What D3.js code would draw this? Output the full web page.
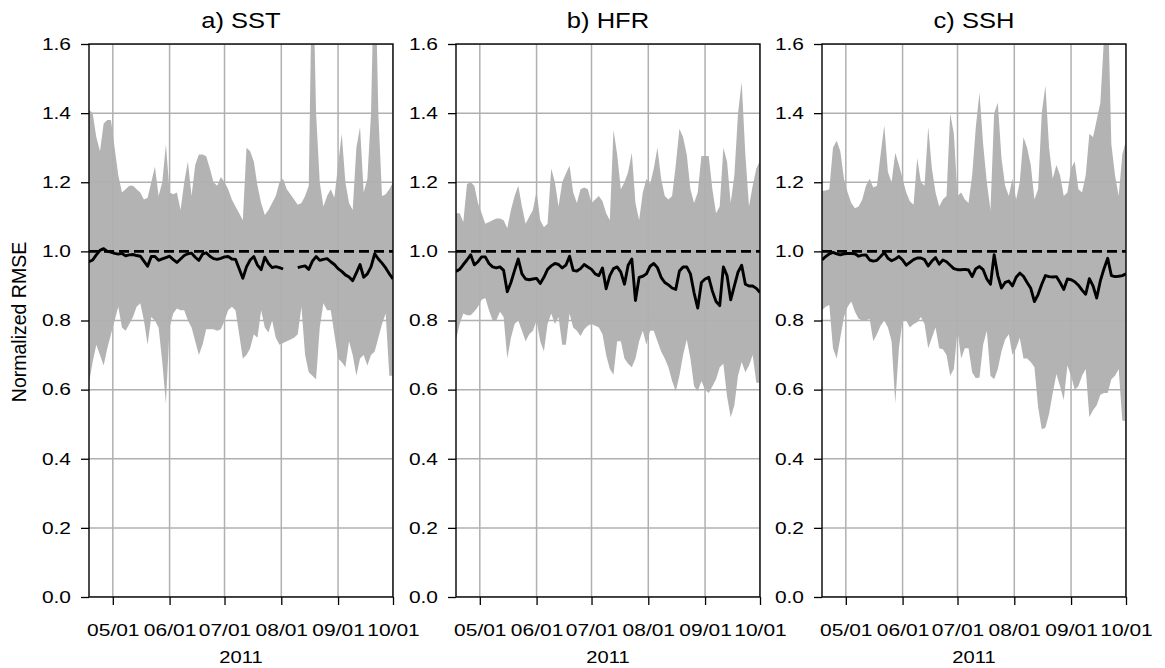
<!DOCTYPE html>
<html>
<head>
<meta charset="utf-8">
<script src="https://cdn.jsdelivr.net/npm/d3@7"></script>
<style>
    body { margin: 0; background: #fff; }
    text { font-family: "Liberation Sans", Arial, sans-serif; fill: #000; }
</style>
</head>
<body>
<div id="chart"></div>
<script>

// x categories: every second day from 2011-04-18 to 2011-10-01
const startDate = new Date(2011, 3, 18);
const dates = d3.range(84).map(i => d3.timeDay.offset(startDate, 2 * i));
const monthTicks = [4, 5, 6, 7, 8, 9].map(m => new Date(2011, m, 1));
const yTicks = [0, 0.2, 0.4, 0.6, 0.8, 1.0, 1.2, 1.4, 1.6];
const titles = ["a) SST", "b) HFR", "c) SSH"];

// a) SST
const sstHi = [1.41,1.40,1.33,1.29,1.37,1.38,1.38,1.30,1.22,1.17,
    1.18,1.19,1.19,1.18,1.17,1.15,1.155,1.20,1.245,1.16,
    1.20,1.31,1.17,1.165,1.17,1.12,1.20,1.26,1.16,1.25,
    1.28,1.28,1.275,1.24,1.20,1.19,1.215,1.20,1.18,1.15,
    1.13,1.11,1.09,1.30,1.29,1.26,1.19,1.14,1.105,1.12,
    1.14,1.16,1.20,1.21,1.18,1.165,1.15,1.135,1.14,1.16,
    1.19,1.90,1.40,1.20,1.13,1.16,1.18,1.155,1.25,1.34,
    1.20,1.14,1.12,1.30,1.36,1.17,1.21,1.40,1.90,1.40,
    1.16,1.165,1.18,1.20];
const sstLo = [0.62,0.68,0.73,0.70,0.67,0.72,0.76,0.80,0.84,0.78,
    0.77,0.79,0.81,0.84,0.85,0.80,0.73,0.81,0.80,0.78,
    0.68,0.56,0.78,0.82,0.835,0.83,0.83,0.80,0.78,0.74,
    0.70,0.73,0.775,0.775,0.775,0.77,0.775,0.80,0.83,0.84,
    0.83,0.76,0.69,0.70,0.72,0.76,0.75,0.83,0.78,0.765,
    0.80,0.75,0.73,0.735,0.74,0.745,0.75,0.76,0.84,0.70,
    0.65,0.64,0.63,0.78,0.85,0.83,0.83,0.76,0.69,0.68,
    0.665,0.74,0.70,0.64,0.69,0.70,0.67,0.70,0.71,0.75,
    0.79,0.82,0.64,0.64];
const sstMean = [0.97,0.975,0.99,1.003,1.008,1.0,0.998,0.994,0.992,0.994,
    0.987,0.99,0.991,0.988,0.986,0.972,0.957,0.985,0.985,0.974,
    0.978,0.982,0.986,0.976,0.968,0.978,0.988,0.993,0.995,0.983,
    0.974,0.992,0.996,0.986,0.979,0.977,0.980,0.984,0.985,0.978,
    0.977,0.95,0.922,0.955,0.975,0.985,0.96,0.947,0.983,0.965,
    0.953,0.956,0.953,0.949,null,null,null,0.953,0.956,0.958,
    0.948,0.972,0.985,0.974,0.977,0.979,0.970,0.962,0.950,0.942,
    0.932,0.926,0.915,0.938,0.962,0.925,0.935,0.955,0.993,0.978,
    0.966,0.952,0.935,0.92];

// b) HFR
const hfrHi = [1.11,1.11,1.085,1.195,1.20,1.19,1.14,1.11,1.08,1.085,
    1.09,1.095,1.095,1.09,1.067,1.12,1.16,1.19,1.13,1.08,
    1.10,1.12,1.175,1.09,1.07,1.08,1.24,1.20,1.13,1.20,
    1.225,1.248,1.17,1.14,1.18,1.185,1.18,1.14,1.15,1.16,
    1.145,1.11,1.09,1.352,1.28,1.18,1.20,1.23,1.285,1.14,
    1.09,1.17,1.21,1.195,1.24,1.30,1.21,1.16,1.15,1.16,
    1.25,1.355,1.33,1.28,1.18,1.14,1.17,1.276,1.276,1.276,
    1.18,1.11,1.13,1.30,1.26,1.14,1.22,1.40,1.49,1.28,
    1.13,1.19,1.24,1.262];
const hfrLo = [0.745,0.79,0.82,0.815,0.815,0.826,0.84,0.86,0.865,0.83,
    0.80,0.80,0.825,0.81,0.69,0.75,0.79,0.80,0.77,0.74,
    0.76,0.77,0.80,0.74,0.71,0.79,0.82,0.79,0.81,0.73,
    0.73,0.82,0.78,0.77,0.755,0.775,0.785,0.79,0.785,0.78,
    0.76,0.70,0.66,0.643,0.74,0.74,0.69,0.675,0.665,0.69,
    0.74,0.77,0.73,0.77,0.77,0.74,0.71,0.69,0.665,0.625,
    0.595,0.64,0.70,0.745,0.69,0.61,0.595,0.625,0.60,0.59,
    0.61,0.63,0.665,0.675,0.58,0.52,0.555,0.64,0.68,0.65,
    0.67,0.70,0.62,0.62];
const hfrMean = [0.942,0.948,0.962,0.975,0.99,0.961,0.97,0.984,0.984,0.965,
    0.955,0.952,0.955,0.945,0.883,0.91,0.945,0.978,0.935,0.92,
    0.918,0.92,0.922,0.907,0.925,0.948,0.958,0.965,0.962,0.952,
    0.96,0.986,0.945,0.943,0.95,0.962,0.955,0.948,0.935,0.93,
    0.952,0.892,0.93,0.95,0.955,0.94,0.905,0.96,0.978,0.858,
    0.925,0.928,0.935,0.957,0.965,0.953,0.925,0.91,0.903,0.894,
    0.89,0.943,0.955,0.955,0.935,0.88,0.836,0.91,0.92,0.925,
    0.885,0.855,0.843,0.955,0.93,0.86,0.90,0.94,0.96,0.905,
    0.90,0.90,0.893,0.881];

// c) SSH
const sshHi = [1.175,1.176,1.18,1.30,1.32,1.29,1.21,1.17,1.14,1.125,
    1.13,1.15,1.19,1.21,1.185,1.19,1.28,1.365,1.23,1.20,
    1.285,1.25,1.21,1.17,1.145,1.135,1.27,1.20,1.19,1.36,
    1.24,1.17,1.13,1.15,1.16,1.40,1.34,1.16,1.17,1.15,
    1.14,1.22,1.36,1.46,1.31,1.20,1.12,1.40,1.43,1.27,
    1.19,1.16,1.21,1.15,1.20,1.33,1.30,1.25,1.15,1.18,
    1.40,1.48,1.30,1.21,1.25,1.22,1.16,1.17,1.24,1.26,
    1.18,1.17,1.22,1.34,1.33,1.38,1.43,1.62,1.75,1.31,
    1.22,1.16,1.28,1.32];
const sshLo = [0.83,0.84,0.845,0.72,0.69,0.75,0.81,0.84,0.855,0.825,
    0.805,0.80,0.80,0.805,0.74,0.76,0.785,0.80,0.78,0.74,
    0.56,0.72,0.80,0.80,0.78,0.79,0.795,0.81,0.79,0.72,
    0.75,0.78,0.72,0.717,0.70,0.64,0.66,0.77,0.69,0.72,
    0.72,0.65,0.633,0.635,0.73,0.77,0.64,0.63,0.66,0.71,
    0.745,0.76,0.70,0.72,0.75,0.69,0.69,0.68,0.665,0.55,
    0.485,0.49,0.53,0.59,0.645,0.61,0.57,0.67,0.64,0.60,
    0.61,0.64,0.66,0.52,0.54,0.555,0.585,0.59,0.59,0.63,
    0.64,0.66,0.51,0.51];
const sshMean = [0.975,0.985,0.993,0.997,0.993,0.99,0.993,0.994,0.994,0.993,
    0.986,0.989,0.99,0.975,0.972,0.974,0.985,0.997,0.98,0.973,
    0.978,0.985,0.975,0.96,0.968,0.976,0.981,0.981,0.976,0.958,
    0.972,0.982,0.963,0.975,0.97,0.96,0.95,0.947,0.947,0.948,
    0.946,0.927,0.95,0.956,0.947,0.92,0.905,0.99,0.93,0.894,
    0.91,0.914,0.9,0.925,0.937,0.928,0.91,0.893,0.855,0.875,
    0.905,0.93,0.927,0.926,0.927,0.91,0.89,0.92,0.918,0.912,
    0.902,0.888,0.876,0.921,0.9,0.865,0.915,0.95,0.98,0.93,
    0.927,0.928,0.93,0.935];

const panelLows = [sstLo, hfrLo, sshLo];
const panelHighs = [sstHi, hfrHi, sshHi];
const panelMeans = [sstMean, hfrMean, sshMean];

// the reference text is wider than the font at that height, so stretch it sideways
function stretchText(sel, sx) {
    sel.each(function () {
        let w = this.getComputedTextLength();
        d3.select(this)
            .attr("textLength", w * sx)
            .attr("lengthAdjust", "spacingAndGlyphs");
    });
}

class PanelVis {

    constructor(svg, index, left, lo, hi, mean) {
        this.svg = svg;
        this.index = index;
        this.left = left;
        this.lo = lo;
        this.hi = hi;
        this.mean = mean;

        this.initVis();
    }

    initVis() {
        let vis = this;

        vis.top = 44;
        vis.width = 304;
        vis.height = 553;

        vis.g = vis.svg.append("g")
            .attr("transform", `translate(${vis.left}, ${vis.top})`);

        vis.x = d3.scaleTime()
            .domain([dates[0], dates[dates.length - 1]])
            .range([0, vis.width]);

        vis.y = d3.scaleLinear()
            .domain([0, 1.6])
            .range([vis.height, 0]);

        vis.g.append("clipPath")
            .attr("id", "clip" + vis.index)
            .append("rect")
            .attr("width", vis.width)
            .attr("height", vis.height);

        vis.updateVis();
    }

    updateVis() {
        let vis = this;

        vis.rows = dates.map((d, i) => ({date: d, lo: vis.lo[i], hi: vis.hi[i], mean: vis.mean[i]}));

        let plot = vis.g.append("g").attr("clip-path", `url(#clip${vis.index})`);

        // min / max envelope
        let area = d3.area()
            .x(d => vis.x(d.date))
            .y0(d => vis.y(d.lo))
            .y1(d => vis.y(d.hi));

        plot.append("path")
            .datum(vis.rows)
            .attr("d", area)
            .attr("fill", "#b3b3b3")
            .attr("stroke", "none");

        // grid sits over the patch like matplotlib does
        plot.selectAll(".hgrid")
            .data(yTicks)
            .enter().append("line")
            .attr("class", "hgrid")
            .attr("x1", 0).attr("x2", vis.width)
            .attr("y1", d => vis.y(d)).attr("y2", d => vis.y(d))
            .attr("stroke", "#b0b0b0")
            .attr("stroke-width", 1.5);

        plot.selectAll(".vgrid")
            .data(monthTicks)
            .enter().append("line")
            .attr("class", "vgrid")
            .attr("x1", d => vis.x(d)).attr("x2", d => vis.x(d))
            .attr("y1", 0).attr("y2", vis.height)
            .attr("stroke", "#b0b0b0")
            .attr("stroke-width", 1.5);

        plot.append("line")
            .attr("x1", 0).attr("x2", vis.width)
            .attr("y1", vis.y(1)).attr("y2", vis.y(1))
            .attr("stroke", "#000")
            .attr("stroke-width", 2.9)
            .attr("stroke-dasharray", "10,5");

        let line = d3.line()
            .defined(d => d.mean !== null)
            .x(d => vis.x(d.date))
            .y(d => vis.y(d.mean));

        plot.append("path")
            .datum(vis.rows)
            .attr("d", line)
            .attr("fill", "none")
            .attr("stroke", "#000")
            .attr("stroke-width", 2.9)
            .attr("stroke-linejoin", "round");

        // axes
        let yAxis = vis.g.append("g")
            .call(d3.axisLeft(vis.y)
                .tickValues(yTicks)
                .tickFormat(d3.format(".1f"))
                .tickSize(8)
                .tickPadding(10));

        let xAxis = vis.g.append("g")
            .attr("transform", `translate(0, ${vis.height})`)
            .call(d3.axisBottom(vis.x)
                .tickValues(monthTicks)
                .tickFormat(d3.timeFormat("%m/%d"))
                .tickSize(8)
                .tickPadding(19));

        [yAxis, xAxis].forEach(ax => {
            ax.select(".domain").remove();
            ax.selectAll(".tick line").attr("stroke", "#000").attr("stroke-width", 1.3);
            ax.selectAll("text").style("font-size", "16.5px").attr("fill", "#000");
            stretchText(ax.selectAll("text"), 1.27);
        });

        vis.g.append("rect")
            .attr("width", vis.width)
            .attr("height", vis.height)
            .attr("fill", "none")
            .attr("stroke", "#000")
            .attr("stroke-width", 1.4);

        // title and year label
        vis.g.append("text")
            .attr("x", vis.width / 2)
            .attr("y", -16)
            .attr("text-anchor", "middle")
            .style("font-size", "22px")
            .text(titles[vis.index])
            .call(stretchText, 1.16);

        vis.g.append("text")
            .attr("x", vis.width / 2)
            .attr("y", vis.height + 66)
            .attr("text-anchor", "middle")
            .style("font-size", "16.5px")
            .text("2011")
            .call(stretchText, 1.22);
    }
}

let svg = d3.select("#chart").append("svg")
    .attr("width", 1165)
    .attr("height", 668);

let lefts = [89, 456, 822];
let panels = lefts.map((l, i) => new PanelVis(svg, i, l, panelLows[i], panelHighs[i], panelMeans[i]));

svg.append("text")
    .attr("transform", "translate(26, 322) rotate(-90)")
    .attr("text-anchor", "middle")
    .style("font-size", "19.5px")
    .text("Normalized RMSE");

</script>
</body>
</html>
